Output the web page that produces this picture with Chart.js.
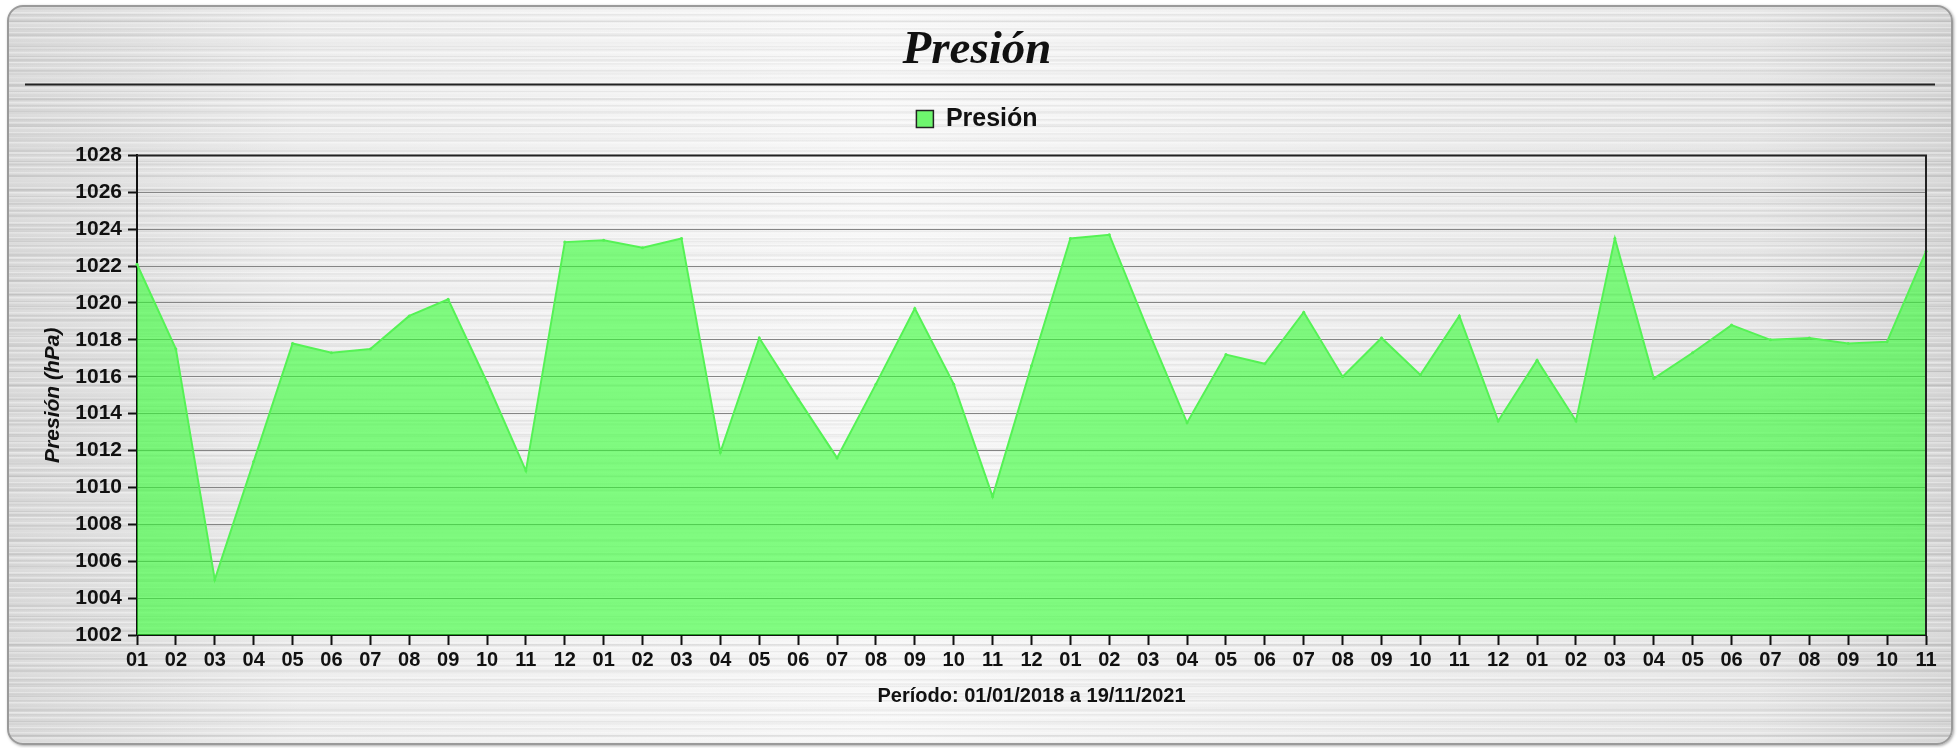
<!DOCTYPE html>
<html>
<head>
<meta charset="utf-8">
<script src="https://cdn.jsdelivr.net/npm/chart.js@4"></script>
<style>
  html, body { margin: 0; padding: 0; background: #ffffff; }
  #wrap {
    position: absolute; left: 0; top: 0; width: 1959px; height: 748px;
  }
  #panel {
    position: absolute; left: 7px; top: 5px; width: 1942px; height: 736px;
    border: 2px solid #9a9a9a; border-radius: 16px;
    box-shadow: 1px 1px 3px rgba(0,0,0,0.35);
    background:
      repeating-linear-gradient(180deg, rgba(255,255,255,0.35) 0px, rgba(255,255,255,0.35) 1px, rgba(0,0,0,0) 2px, rgba(0,0,0,0) 5px),
      repeating-linear-gradient(180deg, rgba(0,0,0,0.05) 0px, rgba(0,0,0,0.05) 1px, rgba(0,0,0,0) 2px, rgba(0,0,0,0) 7px),
      repeating-linear-gradient(180deg, rgba(0,0,0,0.04) 0px, rgba(0,0,0,0.04) 2px, rgba(255,255,255,0.2) 3px, rgba(0,0,0,0) 13px),
      linear-gradient(90deg, #d4d4d4 0%, #ebebeb 15%, #f7f7f7 45%, #ececec 70%, #e4e4e4 90%, #d0d0d0 100%);
  }
  canvas { position: absolute; left: 0; top: 0; }
</style>
</head>
<body>
<div id="wrap">
  <div id="panel"></div>
  <canvas id="pressureChart" width="1959" height="748"></canvas>
</div>
<script>
// months from 01/2018 to 11/2021
const monthLabels = [
  '01','02','03','04','05','06','07','08','09','10','11','12',
  '01','02','03','04','05','06','07','08','09','10','11','12',
  '01','02','03','04','05','06','07','08','09','10','11','12',
  '01','02','03','04','05','06','07','08','09','10','11'
];
const pressureValues = [
  1022.1, 1017.5, 1005.0, 1011.4, 1017.8, 1017.3, 1017.5, 1019.3, 1020.2, 1015.7, 1010.9, 1023.3,
  1023.4, 1023.0, 1023.5, 1011.9, 1018.1, 1014.8, 1011.6, 1015.6, 1019.7, 1015.6, 1009.5, 1016.6,
  1023.5, 1023.7, 1018.5, 1013.5, 1017.2, 1016.7, 1019.5, 1016.0, 1018.1, 1016.1, 1019.3, 1013.6,
  1016.9, 1013.6, 1023.5, 1015.9, 1017.3, 1018.8, 1018.0, 1018.1, 1017.8, 1017.9, 1022.8
];
const yMin = 1002;
const yMax = 1028;
const yStep = 2;

const textColor = '#111111';

// extra gap below the legend
const legendGap = {
  id: 'legendGap',
  beforeInit(chart) {
    const origFit = chart.legend.fit;
    chart.legend.fit = function () {
      origFit.call(this);
      this.height += 14;
    };
  }
};

// frame line under the title + border on top/right of the plot
const framePlugin = {
  id: 'framePlugin',
  afterDraw(chart) {
    const ctx = chart.ctx;
    const area = chart.chartArea;
    ctx.save();
    ctx.strokeStyle = '#222';
    ctx.lineWidth = 2;
    ctx.beginPath();
    ctx.moveTo(area.left, area.top);
    ctx.lineTo(area.right, area.top);
    ctx.lineTo(area.right, area.bottom);
    ctx.stroke();
    const t = chart.titleBlock;
    ctx.beginPath();
    ctx.moveTo(25, t.bottom - 2);
    ctx.lineTo(1935, t.bottom - 2);
    ctx.stroke();
    ctx.restore();
  }
};

const ctx = document.getElementById('pressureChart').getContext('2d');
new Chart(ctx, {
  type: 'line',
  data: {
    labels: monthLabels,
    datasets: [{
      label: 'Presión',
      data: pressureValues,
      borderColor: 'rgb(85,242,85)',
      borderWidth: 2,
      backgroundColor: 'rgba(50,255,50,0.6)',
      fill: 'start',
      tension: 0,
      pointRadius: 1.5,
      pointBackgroundColor: 'rgb(85,242,85)',
      pointBorderWidth: 0
    }]
  },
  options: {
    responsive: false,
    animation: false,
    layout: { padding: { left: 28, right: 33, top: 6, bottom: 36 } },
    plugins: {
      title: {
        display: true,
        text: 'Presión',
        color: textColor,
        font: { family: 'Liberation Serif', size: 47, weight: 'bold', style: 'italic' },
        padding: { top: 17, bottom: 7 }
      },
      legend: {
        display: true,
        labels: {
          color: textColor,
          font: { family: 'Liberation Sans', size: 25, weight: 'bold' },
          boxWidth: 17,
          boxHeight: 17,
          padding: 20,
          generateLabels(chart) {
            return [{
              text: 'Presión',
              fillStyle: 'rgb(110,245,110)',
              strokeStyle: '#222',
              lineWidth: 1.5,
              hidden: false,
              datasetIndex: 0,
              fontColor: textColor
            }];
          }
        }
      },
      tooltip: { enabled: false }
    },
    scales: {
      x: {
        grid: {
          drawOnChartArea: false,
          drawTicks: true,
          tickLength: 10,
          tickColor: '#111',
          tickWidth: 2
        },
        border: { color: '#111', width: 2 },
        ticks: {
          color: textColor,
          font: { family: 'Liberation Sans', size: 20, weight: 'bold' },
          maxRotation: 0,
          autoSkip: false,
          padding: 3
        },
        title: {
          display: true,
          text: 'Período: 01/01/2018 a 19/11/2021',
          color: textColor,
          font: { family: 'Liberation Sans', size: 20, weight: 'bold' },
          padding: { top: 4, bottom: 4 }
        },
        afterFit(scale) { scale.height = 77; }
      },
      y: {
        min: yMin,
        max: yMax,
        grid: {
          color: '#858585',
          lineWidth: 1,
          tickLength: 9,
          tickColor: '#111',
          tickWidth: 2
        },
        border: { color: '#111', width: 2 },
        ticks: {
          stepSize: yStep,
          color: textColor,
          font: { family: 'Liberation Sans', size: 21, weight: 'bold' },
          padding: 6,
          callback: (value) => String(value)
        },
        title: {
          display: true,
          text: 'Presión (hPa)',
          color: textColor,
          font: { family: 'Liberation Sans', size: 21, weight: 'bold', style: 'italic' },
          padding: { top: 13, bottom: 4 }
        },
        afterFit(scale) { scale.width = 109; }
      }
    }
  },
  plugins: [legendGap, framePlugin]
});
</script>
</body>
</html>
